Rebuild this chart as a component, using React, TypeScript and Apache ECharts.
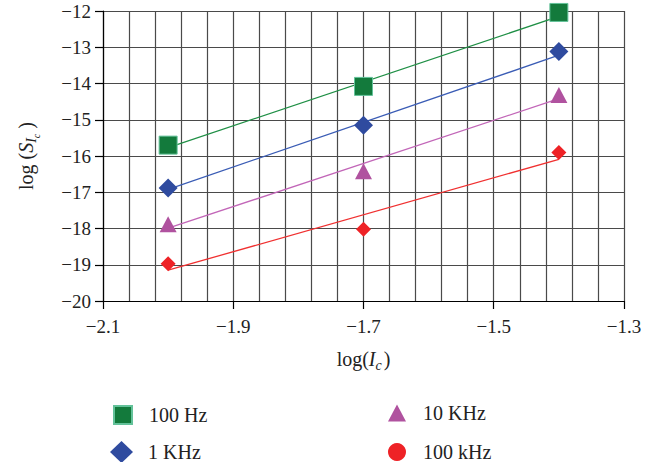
import React, { useEffect, useRef } from "react";
import * as echarts from "echarts";

const xValues = [-2.0, -1.7, -1.4];
const series100Hz = [-15.7, -14.08, -12.04];
const series1KHz = [-16.88, -15.15, -13.12];
const series10KHz = [-17.88, -16.42, -14.32];
const series100kHz = [-18.97, -18.02, -15.9];

const trendX = [-2.0, -1.4];
const trend100Hz = [-15.77, -12.15];
const trend1KHz = [-16.92, -13.22];
const trend10KHz = [-17.99, -14.42];
const trend100kHz = [-19.15, -16.09];

const xTickLabels = ["\u22122.1", "\u22121.9", "\u22121.7", "\u22121.5", "\u22121.3"];
const seriesNames = ["100 Hz", "1 KHz", "10 KHz", "100 kHz"];

const FONT = "Liberation Serif";

const pairs = (xs: number[], ys: number[]) => xs.map((x, i) => [x, ys[i]]);

export default function App() {
  const ref = useRef<HTMLDivElement>(null);
  useEffect(() => {
    if (!ref.current) return;
    const chart = echarts.init(ref.current, undefined, { renderer: "svg" });
    const gridColor = "#4a4a4a";
    const colors = {
      green: "#137a3c",
      blue: "#2f4b9f",
      magenta: "#b0529f",
      red: "#ee2226",
    };
    const lineColors = ["#1f8f45", "#3a5cb5", "#c266b8", "#f03030"];
    const trends = [trend100Hz, trend1KHz, trend10KHz, trend100kHz];
    const legendBase = {
      textStyle: { fontFamily: FONT, fontSize: 20, color: "#222", padding: [0, 0, 0, 12] },
      itemGap: 0,
      selectedMode: false as const,
    };
    const txt = { fontFamily: FONT, color: "#222" };
    chart.setOption({
      animation: false,
      textStyle: { fontFamily: FONT },
      grid: { left: 103, right: 41, top: 11, bottom: 161 },
      xAxis: [
        {
          type: "value",
          show: false,
          min: -2.1,
          max: -1.3,
        },
        {
          type: "value",
          min: 0,
          max: 0.8,
          interval: 0.2,
          position: "bottom",
          axisLine: { show: true, lineStyle: { color: "#000", width: 1.2 } },
          axisTick: { show: true, length: 8, lineStyle: { color: "#000", width: 1.2 } },
          minorTick: { show: false, splitNumber: 5 },
          minorSplitLine: { show: true, lineStyle: { color: gridColor, width: 1.2 } },
          splitLine: { show: true, lineStyle: { color: gridColor, width: 1.2 } },
          axisLabel: {
            ...txt,
            margin: 16,
            fontSize: 19,
            formatter: (v: number) => xTickLabels[Math.round(v / 0.2)] ?? "",
          },
          name: "{n|log(}{i|I}{sub|c}{n|)}",
          nameLocation: "middle",
          nameGap: 48,
          nameTextStyle: {
            rich: {
              n: { ...txt, fontSize: 20, verticalAlign: "top", lineHeight: 21 },
              i: { ...txt, fontSize: 20, fontStyle: "italic", verticalAlign: "top", lineHeight: 21 },
              sub: { ...txt, fontSize: 14, fontStyle: "italic", verticalAlign: "top", lineHeight: 14, padding: [9, 2, 0, 0] },
            },
          },
        },
      ],
      yAxis: {
        type: "value",
        min: -20,
        max: -12,
        interval: 1,
        axisLine: { show: true, lineStyle: { color: "#000", width: 1.2 } },
        axisTick: { show: true, length: 8, lineStyle: { color: "#000", width: 1.2 } },
        splitLine: { show: true, lineStyle: { color: gridColor, width: 1.2 } },
        axisLabel: {
          ...txt,
          margin: 12,
          fontSize: 19,
          formatter: (v: number) => "\u2212" + Math.abs(v),
        },
        name: "{n|log (}{i|S}{sub|I}{sub2|c}{n| )}",
        nameLocation: "middle",
        nameGap: 66,
        nameTextStyle: {
          rich: {
            n: { ...txt, fontSize: 20, verticalAlign: "top", lineHeight: 21 },
            i: { ...txt, fontSize: 20, fontStyle: "italic", verticalAlign: "top", lineHeight: 21 },
            sub: { ...txt, fontSize: 14, fontStyle: "italic", verticalAlign: "top", lineHeight: 14, padding: [8, 0, 0, 0] },
            sub2: { ...txt, fontSize: 10, fontStyle: "italic", verticalAlign: "top", lineHeight: 10, padding: [15, 0, 0, 0] },
          },
        },
      },
      legend: [
        { ...legendBase, left: 108, top: 400, itemWidth: 18, itemHeight: 18, data: [{ name: seriesNames[0], icon: "rect" }] },
        { ...legendBase, left: 105, top: 436, itemWidth: 23, itemHeight: 22, textStyle: { ...legendBase.textStyle, padding: [0, 0, 0, 10] }, data: [{ name: seriesNames[1], icon: "diamond" }] },
        { ...legendBase, left: 383, top: 398, itemWidth: 18, itemHeight: 17, data: [{ name: seriesNames[2], icon: "triangle" }] },
        { ...legendBase, left: 383, top: 437, itemWidth: 18, itemHeight: 18, data: [{ name: seriesNames[3], icon: "circle" }] },
      ],
      series: [
        ...trends.map((t, i) => ({
          name: seriesNames[i] + " trend",
          type: "line",
          xAxisIndex: 0,
          data: pairs(trendX, t),
          showSymbol: false,
          symbol: "none",
          lineStyle: { color: lineColors[i], width: 1.3 },
          z: 2,
          silent: true,
        })),
        {
          name: seriesNames[0],
          type: "scatter",
          xAxisIndex: 0,
          data: pairs(xValues, series100Hz),
          symbol: "rect",
          symbolSize: 18,
          itemStyle: { color: colors.green, borderColor: "#63c29a", borderWidth: 1, opacity: 1 },
          z: 5,
        },
        {
          name: seriesNames[1],
          type: "scatter",
          xAxisIndex: 0,
          data: pairs(xValues, series1KHz),
          symbol: "diamond",
          symbolSize: [19, 19],
          itemStyle: { color: colors.blue, opacity: 1 },
          z: 5,
        },
        {
          name: seriesNames[2],
          type: "scatter",
          xAxisIndex: 0,
          data: pairs(xValues, series10KHz),
          symbol: "triangle",
          symbolSize: [17, 16],
          itemStyle: { color: colors.magenta, opacity: 1 },
          z: 5,
        },
        {
          name: seriesNames[3],
          type: "scatter",
          xAxisIndex: 0,
          data: pairs(xValues, series100kHz),
          symbol: "diamond",
          symbolSize: [15, 15],
          itemStyle: { color: colors.red, opacity: 1 },
          z: 5,
        },
      ],
    });
    return () => chart.dispose();
  }, []);
  return (
    <div
      ref={ref}
      style={{ position: "fixed", left: 0, top: 0, width: 665, height: 462, background: "#fff" }}
    />
  );
}
